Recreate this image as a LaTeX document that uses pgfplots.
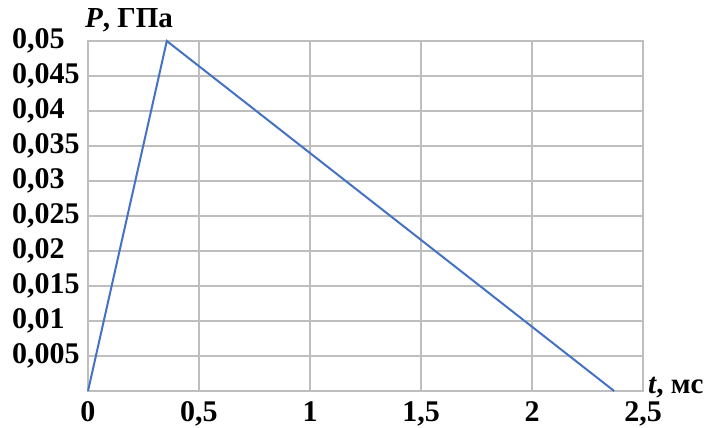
\documentclass[border=0pt]{standalone}
\usepackage{fontspec}
\setmainfont{Liberation Serif}
\usepackage{pgfplots}
\pgfplotsset{compat=1.18}
\definecolor{lineblue}{RGB}{68,114,196}
\definecolor{gridgray}{RGB}{190,190,190}
\begin{document}
\begin{tikzpicture}
\begin{axis}[
  scale only axis, width=555pt, height=350pt,
  xmin=0, xmax=2.5, ymin=0, ymax=0.05,
  xtick={0,0.5,1,1.5,2,2.5},
  ytick={0.005,0.01,0.015,0.02,0.025,0.03,0.035,0.04,0.045,0.05},
  grid=major,
  major grid style={gridgray, line width=1.1pt},
  axis line style={gridgray, line width=1.1pt},
  major tick length=0pt,
  tick style={draw=none},
  /pgf/number format/.cd, use comma, fixed, precision=3, assume math mode=true,
  /pgfplots/.cd,
  scaled y ticks=false,
  tick label style={font=\fontsize{30}{32}\selectfont\bfseries},
  yticklabel style={anchor=west, inner sep=0pt, xshift=-76pt},
  xticklabel style={anchor=north, inner sep=0pt, yshift=-10pt},
  clip=false,
]
\addplot[lineblue, line width=2pt] coordinates {(0,0) (0.355,0.05) (2.37,0)};
\node[anchor=base west, inner sep=0pt, font=\fontsize{29}{31}\selectfont\bfseries] at (rel axis cs:0,1) [xshift=-3pt, yshift=13pt] {\textit{P}, ГПа};
\node[anchor=base west, inner sep=0pt, font=\fontsize{29}{31}\selectfont\bfseries] at (rel axis cs:1,0) [xshift=5pt, yshift=-2pt] {\textit{t}, мс};
\end{axis}
\pgfresetboundingbox
\path (-88pt,-37pt) rectangle (621pt,391pt);
\end{tikzpicture}
\end{document}
